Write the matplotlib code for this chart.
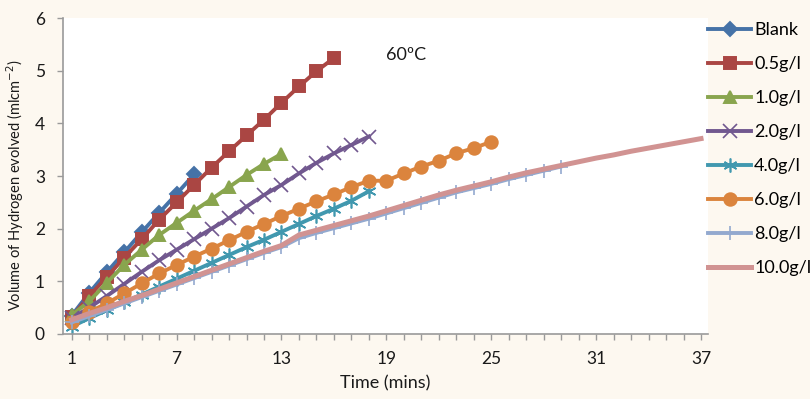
import matplotlib.pyplot as plt
import numpy as np

# datos (tiempo en min, volumen en ml/cm2)
blank = [0.35, 0.78, 1.17, 1.55, 1.93, 2.30, 2.66, 3.03]
c05 = [0.32, 0.72, 1.08, 1.45, 1.80, 2.17, 2.50, 2.83, 3.16, 3.47, 3.77, 4.07,
       4.39, 4.70, 4.99, 5.24]
c10 = [0.36, 0.62, 0.97, 1.31, 1.60, 1.88, 2.11, 2.34, 2.56, 2.79, 3.02, 3.23, 3.42]
c20 = [0.30, 0.50, 0.72, 0.95, 1.18, 1.40, 1.60, 1.80, 2.00, 2.20, 2.42, 2.64,
       2.83, 3.05, 3.25, 3.43, 3.59, 3.75]
c40 = [0.14, 0.30, 0.45, 0.60, 0.75, 0.90, 1.05, 1.20, 1.35, 1.50, 1.65, 1.79,
       1.94, 2.09, 2.24, 2.38, 2.53, 2.71]
c60 = [0.23, 0.42, 0.58, 0.77, 0.96, 1.15, 1.31, 1.47, 1.62, 1.78, 1.94, 2.09,
       2.24, 2.38, 2.52, 2.65, 2.79, 2.91, 2.91, 3.05, 3.18, 3.29, 3.43, 3.53, 3.65]
c80 = [0.22, 0.34, 0.46, 0.58, 0.70, 0.82, 0.94, 1.06, 1.18, 1.30, 1.42, 1.54,
       1.65, 1.82, 1.92, 2.01, 2.10, 2.19, 2.29, 2.39, 2.49, 2.59, 2.69, 2.77,
       2.85, 2.94, 3.02, 3.10, 3.18]
c100 = [0.27, 0.39, 0.50, 0.62, 0.73, 0.85, 0.97, 1.09, 1.21, 1.33, 1.45, 1.57,
        1.68, 1.88, 1.97, 2.06, 2.15, 2.24, 2.34, 2.44, 2.54, 2.64, 2.73, 2.81,
        2.89, 2.98, 3.06, 3.13, 3.20, 3.27, 3.34, 3.40, 3.47, 3.53, 3.59, 3.65, 3.71]

labels = ['Blank', '0.5g/l', '1.0g/l', '2.0g/l', '4.0g/l', '6.0g/l', '8.0g/l', '10.0g/l']
series = [blank, c05, c10, c20, c40, c60, c80, c100]
colores = ['#4572A7', '#AA4643', '#89A54E', '#71588F', '#4198AF', '#DB843D',
           '#93A9CF', '#D19392']
marcadores = ['D', 's', '^', 'x', (6, 2, 0), 'o', '+', None]
tam = [7, 8.5, 9, 9.5, 10, 9, 10, 0]
bordes = [1.4, 1.4, 1.4, 1.2, 1.2, 1.4, 1.2, 1.4]
anchos = [2.8, 2.8, 2.8, 2.8, 2.8, 2.8, 2.8, 3.6]

plt.rcParams['font.family'] = ['Lato', 'DejaVu Sans']
fondo = '#FDF8F0'

fig = plt.figure(figsize=(8.1, 3.99), dpi=100, facecolor=fondo)
ax = fig.add_axes([63 / 810, 65 / 399, 645 / 810, 316 / 399])
ax.set_facecolor('white')

for y, lab, col, m, ms, mew, lw in zip(series, labels, colores, marcadores, tam, bordes, anchos):
    x = np.arange(1, len(y) + 1)
    ax.plot(x, y, color=col, lw=lw, marker=m, markersize=ms,
            markeredgewidth=mew, markeredgecolor=col, label=lab)

ax.set_xlim(0.5, 37.4)
ax.set_ylim(0, 6)
ax.set_xticks(np.arange(1, 38))
ax.set_xticklabels([str(i) if (i - 1) % 6 == 0 else '' for i in range(1, 38)])
ax.set_yticks(range(0, 7))
for s in ['top', 'right']:
    ax.spines[s].set_visible(False)
for s in ['left', 'bottom']:
    ax.spines[s].set_color('#9A9A9A')
    ax.spines[s].set_linewidth(1.2)
ax.tick_params(axis='both', direction='out', length=4, width=1, color='#9A9A9A',
               labelsize=12.5, labelcolor='#1a1a1a')
ax.tick_params(axis='x', pad=8)
ax.tick_params(axis='y', pad=9)

ax.set_xlabel('Time (mins)', fontsize=13, color='#1a1a1a')
ax.xaxis.set_label_coords(0.499, -0.13)
ax.set_ylabel('Volume of Hydrogen evolved (mlcm$^{-2}$)', fontsize=10.5, color='#1a1a1a')
ax.yaxis.set_label_coords(-0.058, 0.47)

ax.text(20.1, 5.3, '60ºC', fontsize=13, ha='center', va='center', color='#1a1a1a')

fig.legend(loc='upper left', bbox_to_anchor=(708 / 810, 1 - 22 / 399), frameon=False,
           fontsize=13, handlelength=2.4, handletextpad=0.15, labelspacing=1.0,
           borderpad=0, borderaxespad=0, numpoints=1)

fig.savefig('out.png', dpi=100, facecolor=fondo)
